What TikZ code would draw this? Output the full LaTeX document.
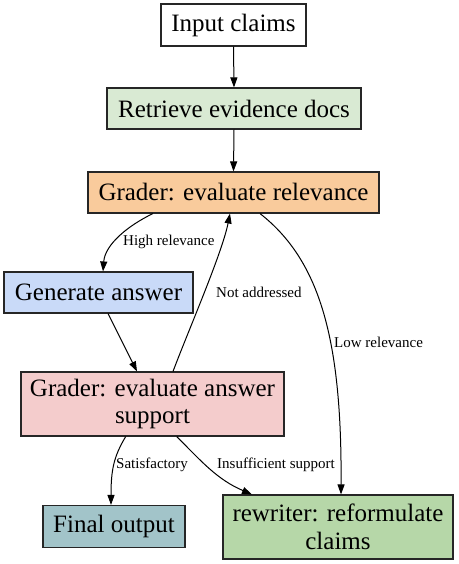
\documentclass[tikz,border=0pt]{standalone}
\usepackage{fontspec}
\setmainfont{Liberation Serif}
\usetikzlibrary{arrows.meta}
\definecolor{cRetr}{HTML}{D9EAD3}
\definecolor{cGrel}{HTML}{F9CB9C}
\definecolor{cGen}{HTML}{C9DAF8}
\definecolor{cGans}{HTML}{F4CCCC}
\definecolor{cFin}{HTML}{A2C4C9}
\definecolor{cRew}{HTML}{B6D7A8}
\tikzset{
  box/.style={draw=black!85, line width=1.1pt, inner sep=0pt, align=center,
    font=\fontsize{25}{27.5}\selectfont},
  edge/.style={line width=1pt, -{Triangle[length=10pt,width=7pt]}},
  elab/.style={inner sep=0pt, anchor=west, font=\fontsize{15}{17}\selectfont}
}
\begin{document}
\begin{tikzpicture}[x=1pt,y=-1pt]
\useasboundingbox (0,0) rectangle (458,564);
\node[box, minimum width=145pt, minimum height=42pt] (inp) at (233.5,25) {Input claims};
\node[box, fill=cRetr, minimum width=254pt, minimum height=41pt] (ret) at (234,108.5) {Retrieve evidence docs};
\node[box, fill=cGrel, minimum width=291pt, minimum height=41pt] (grel) at (233.5,192.5) {Grader: evaluate relevance};
\node[box, fill=cGen, minimum width=189pt, minimum height=41pt] (gen) at (98.5,292.5) {Generate answer};
\node[box, fill=cGans, minimum width=263pt, minimum height=64pt] (gans) at (152.5,404) {Grader: evaluate answer\\support};
\node[box, fill=cFin, minimum width=142pt, minimum height=42pt] (fin) at (114,526.5) {Final output};
\node[box, fill=cRew, minimum width=230pt, minimum height=64pt] (rew) at (338,527) {rewriter: reformulate\\claims};

\draw[edge] (inp.south) -- (ret.north);
\draw[edge] (ret.south) -- (grel.north);
\draw[edge] ([xshift=-80.5pt]grel.south) .. controls +(-25,12) and +(2,-27) .. ([xshift=4.5pt]gen.north);
\draw[edge] ([xshift=9.5pt]gen.south) -- ([xshift=-15.5pt]gans.north);
\draw[edge] ([xshift=20.5pt]gans.north) .. controls +(15,-40) and +(-8,40) .. ([xshift=-3.5pt]grel.south);
\draw[edge] ([xshift=26.5pt]grel.south) .. controls +(60,47) and +(1,-155) .. ([xshift=3pt]rew.north);
\draw[edge] ([xshift=-26.8pt]gans.south) .. controls +(-12,20) and +(0,-35) .. ([xshift=-3pt]fin.north);
\draw[edge] ([xshift=24.2pt]gans.south) .. controls +(25,25) and +(-35,-15) .. ([xshift=-86pt]rew.north);

\node[elab] (lhigh) at (123,242) {High relevance};
\node[elab] (lnot) at (216,292) {Not addressed};
\node[elab] (llow) at (334,342) {Low relevance};
\node[elab] (lsat) at (116,465) {Satisfactory};
\node[elab] (lins) at (217,465) {Insufficient support};
\end{tikzpicture}
\end{document}
